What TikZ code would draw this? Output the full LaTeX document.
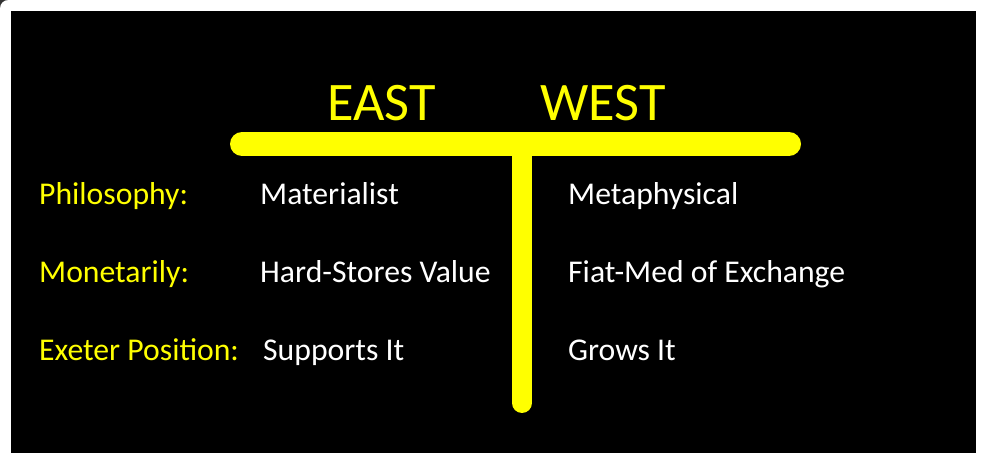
\documentclass[tikz,border=0pt]{standalone}
\usepackage{fontspec}
\setmainfont{Carlito}
\definecolor{tyellow}{RGB}{255,255,0}
\begin{document}
\begin{tikzpicture}[x=1bp,y=-1bp,
  head/.style={anchor=base west,inner sep=0pt,text=tyellow,font=\fontsize{54.5}{60}\selectfont},
  lbl/.style={anchor=base west,inner sep=0pt,text=tyellow,font=\fontsize{31.8}{36}\selectfont},
  val/.style={anchor=base west,inner sep=0pt,text=white,font=\fontsize{31.8}{36}\selectfont},
  bar/.style={draw=tyellow,line cap=round}]
\useasboundingbox (0,0) rectangle (985,463);
\fill[white] (0,0) rectangle (985,463);
\fill[black!80] (0,0) -- (8,0) arc[start angle=90,end angle=180,radius=8bp] -- cycle;
\fill[black] (11,11) rectangle (976,453);
% T bar
\coordinate (hl) at (242,144);
\coordinate (hr) at (789,144);
\coordinate (vt) at (522,144);
\coordinate (vb) at (522,403);
\draw[bar,line width=24bp] (hl) -- (hr);
\draw[bar,line width=20bp] (vt) -- (vb);
% headings
\node[head] (east) at (327,121) {EAST};
\node[head] (west) at (540,121) {WEST};
% rows
\node[lbl] (l1) at (39,205) {Philosophy:};
\node[lbl] (l2) at (39,282.5) {Monetarily:};
\node[lbl] (l3) at (39,360.5) {Exeter Position:};
\node[val] (e1) at (260,205) {Materialist};
\node[val] (e2) at (260,282.5) {Hard-Stores Value};
\node[val] (e3) at (263,360.5) {Supports It};
\node[val] (w1) at (568,205) {Metaphysical};
\node[val] (w2) at (568,282.5) {Fiat-Med of Exchange};
\node[val] (w3) at (568,360.5) {Grows It};
\end{tikzpicture}
\end{document}
